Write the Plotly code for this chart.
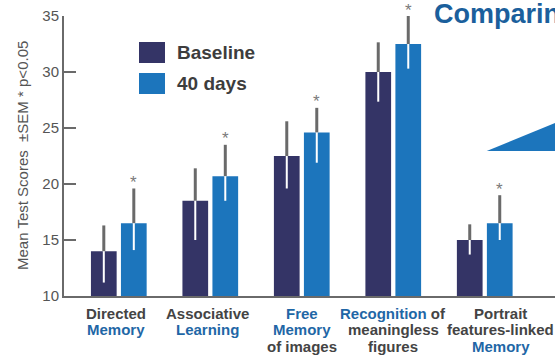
import plotly.graph_objects as go

# ---- data -------------------------------------------------------------
HL = "<span style='color:#1f67a6'>{}</span>"
category_lines = [
    ["Directed", HL.format("Memory")],
    ["Associative", HL.format("Learning")],
    [HL.format("Free"), HL.format("Memory"), "of images"],
    [HL.format("Recognition") + " of", "meaningless", "figures"],
    ["Portrait", "features-linked", HL.format("Memory")],
]
series_names = ["Baseline", "40 days"]
baseline = [14.0, 18.5, 22.5, 30.0, 15.0]
day40 = [16.5, 20.7, 24.6, 32.5, 16.5]
baseline_sem_up = [2.3, 2.9, 3.1, 2.65, 1.4]
baseline_sem_down = [2.8, 3.5, 2.9, 2.65, 1.3]
day40_sem_up = [3.1, 2.8, 2.2, 2.5, 2.5]
day40_sem_down = [2.4, 2.2, 2.7, 2.2, 1.5]
significant = [True, True, True, True, True]
y_ticks = [10, 15, 20, 25, 30, 35]

# ---- style ------------------------------------------------------------
NAVY = "#343466"
BLUE = "#1c75bc"
AXIS = "#6a6a6a"
TEXT = "#444444"
FONT = "Liberation Sans, Arial, sans-serif"
BAR_W = 0.281
SHIFT = 0.164
LABEL_NUDGE = [-3, -3, 0, 0, 16]   # horizontal nudge (px) of each category label block

n = len(baseline)
idx = list(range(n))
x_base = [i - SHIFT for i in idx]
x_day = [i + SHIFT for i in idx]

fig = go.Figure()

for xs, ys, up, down, color, name in [
    (x_base, baseline, baseline_sem_up, baseline_sem_down, NAVY, series_names[0]),
    (x_day, day40, day40_sem_up, day40_sem_down, BLUE, series_names[1]),
]:
    fig.add_trace(go.Bar(
        x=xs, y=ys, width=BAR_W, name=name,
        marker=dict(color=color, line=dict(width=0)),
        error_y=dict(type="data", symmetric=False, array=up,
                     arrayminus=[0] * n, color=AXIS, thickness=3, width=0),
        showlegend=False,
    ))
    # lower half of the SEM bar, drawn in white over the bar body
    fig.add_trace(go.Scatter(
        x=xs, y=ys, mode="markers",
        marker=dict(size=1, color="rgba(0,0,0,0)"),
        error_y=dict(type="data", symmetric=False, array=[0] * n,
                     arrayminus=down, color="white", thickness=2, width=0),
        showlegend=False, hoverinfo="skip",
    ))

annotations = []

# significance markers
for i in idx:
    if significant[i]:
        annotations.append(dict(
            x=x_day[i], y=day40[i] + day40_sem_up[i], xref="x", yref="y",
            text="*", showarrow=False, yanchor="middle", yshift=6,
            font=dict(family=FONT, size=17, color="#7a7a7a"),
        ))

# category labels, one annotation per line
for i, lines in enumerate(category_lines):
    for k, line in enumerate(lines):
        annotations.append(dict(
            x=i, y=0, xref="x", yref="paper", text="<b>" + line + "</b>",
            showarrow=False, xanchor="center", yanchor="middle",
            xshift=LABEL_NUDGE[i], yshift=-17 - 16.7 * k,
            font=dict(family=FONT, size=15, color=TEXT),
        ))

# y-axis title
annotations.append(dict(
    x=0, y=0.5, xref="paper", yref="paper",
    text="Mean Test Scores \u00a0\u00b1SEM * p<0.05",
    textangle=-90, showarrow=False, xanchor="center", yanchor="middle",
    xshift=-42, font=dict(family=FONT, size=15, color="#555555"),
))

# legend
legend_rows = [(0.8696, NAVY, series_names[0]), (0.7589, BLUE, series_names[1])]
shapes = []
for yc, color, name in legend_rows:
    shapes.append(dict(type="rect", xref="paper", yref="paper",
                       x0=0.1527, x1=0.2057, y0=yc - 0.0375, y1=yc + 0.0375,
                       fillcolor=color, line=dict(width=0)))
    annotations.append(dict(
        x=0.2261, y=yc, xref="paper", yref="paper", text="<b>" + name + "</b>",
        showarrow=False, xanchor="left", yanchor="middle",
        font=dict(family=FONT, size=19, color="#3d3d3d"),
    ))

# heading running off the right edge
annotations.append(dict(
    x=0.749, y=1.007, xref="paper", yref="paper", text="<b>Comparing</b>",
    showarrow=False, xanchor="left", yanchor="middle",
    font=dict(family=FONT, size=27, color="#1b5f9c"),
))

# decorative wedge
shapes.append(dict(type="path", xref="paper", yref="paper",
                   path="M 0.861 0.518 L 1.2 0.7615 L 1.2 0.518 Z",
                   fillcolor=BLUE, line=dict(width=0), layer="below"))

fig.update_layout(
    width=555, height=356,
    margin=dict(l=64, r=0, t=16, b=60),
    paper_bgcolor="white", plot_bgcolor="white",
    barmode="overlay",
    showlegend=False,
    annotations=annotations, shapes=shapes,
    xaxis=dict(range=[-0.599, 4.768], showgrid=False, zeroline=False,
               showline=True, linecolor=AXIS, linewidth=2,
               showticklabels=False, ticks=""),
    yaxis=dict(range=[10, 35], tickvals=y_ticks, showgrid=False,
               zeroline=False, showline=True, linecolor=AXIS, linewidth=2,
               ticks="inside", ticklen=12, tickwidth=2, tickcolor=AXIS,
               tickfont=dict(family=FONT, size=15, color="#555555")),
)

fig.write_html("out.html")
